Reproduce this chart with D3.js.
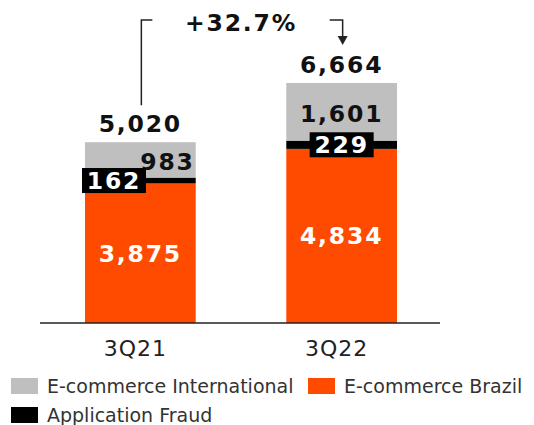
<!DOCTYPE html>
<html>
<head>
<meta charset="utf-8">
<script src="https://cdn.jsdelivr.net/npm/d3@7"></script>
<style>
  body { margin: 0; background: #fff; }
  svg { display: block; font-family: Verdana, "DejaVu Sans", sans-serif; }
</style>
</head>
<body>
<svg id="chart" width="534" height="425"></svg>
<script>
const categories = ["3Q21", "3Q22"]
const brazil = [3875, 4834]
const fraud = [162, 229]
const international = [983, 1601]
const legendItems = ["E-commerce International", "E-commerce Brazil", "Application Fraud"]

const colors = { brazil: "#ff4b00", fraud: "#000000", international: "#bfbfbf" }

const svg = d3.select("#chart")
const fmt = d3.format(",")

// stacked rows
let rows = categories.map((c, i) => ({
  cat: c,
  brazil: brazil[i],
  fraud: fraud[i],
  international: international[i],
  total: brazil[i] + fraud[i] + international[i]
}))

const keys = ["brazil", "fraud", "international"]
const stacked = d3.stack().keys(keys)(rows)

const x = d3.scaleBand().domain(categories).range([85, 397]).paddingInner(0.45)
const y = d3.scaleLinear().domain([0, d3.max(rows, d => d.total)]).range([323, 83])

// bars
svg.append("g")
  .selectAll("g")
  .data(stacked)
  .join("g")
  .attr("fill", d => colors[d.key])
  .selectAll("rect")
  .data(d => d)
  .join("rect")
  .attr("x", d => x(d.data.cat))
  .attr("y", d => y(d[1]))
  .attr("width", x.bandwidth())
  .attr("height", d => y(d[0]) - y(d[1]))

// base line
svg.append("line")
  .attr("x1", 40).attr("x2", 440)
  .attr("y1", y(0)).attr("y2", y(0))
  .attr("stroke", "#222")
  .attr("stroke-width", 1.5)

// category labels
svg.append("g")
  .selectAll("text")
  .data(categories)
  .join("text")
  .attr("x", d => x(d) + x.bandwidth() / 2 - 5)
  .attr("y", 356)
  .attr("text-anchor", "middle")
  .attr("font-size", 22)
  .attr("letter-spacing", 1)
  .attr("fill", "#222")
  .text(d => d)

const valueText = (g) => g
  .attr("font-size", 23.5)
  .attr("font-weight", "bold")
  .attr("letter-spacing", 1.8)

// totals
svg.append("g")
  .selectAll("text")
  .data(rows)
  .join("text")
  .call(valueText)
  .attr("x", d => x(d.cat) + x.bandwidth() / 2)
  .attr("y", d => y(d.total) - 10)
  .attr("text-anchor", "middle")
  .attr("fill", "#111")
  .text(d => fmt(d.total))

// brazil values
svg.append("g")
  .selectAll("text")
  .data(stacked[0])
  .join("text")
  .call(valueText)
  .attr("x", d => x(d.data.cat) + x.bandwidth() / 2)
  .attr("y", d => (y(d[0]) + y(d[1])) / 2)
  .attr("dy", "0.36em")
  .attr("text-anchor", "middle")
  .attr("fill", "#fff")
  .text(d => fmt(d[1] - d[0]))

// international values, first bar right aligned
svg.append("g")
  .selectAll("text")
  .data(stacked[2])
  .join("text")
  .call(valueText)
  .attr("x", (d, i) => i == 0 ? x(d.data.cat) + x.bandwidth() - 1 : x(d.data.cat) + x.bandwidth() / 2)
  .attr("y", d => (y(d[0]) + y(d[1])) / 2 + 2)
  .attr("dy", "0.36em")
  .attr("text-anchor", (d, i) => i == 0 ? "end" : "middle")
  .attr("fill", "#111")
  .text(d => fmt(d[1] - d[0]))

// fraud values in black boxes
let fraudLabels = svg.append("g")
  .selectAll("g")
  .data(stacked[1])
  .join("g")
  .attr("transform", (d, i) => {
    let cx = i == 0 ? x(d.data.cat) + 29 : x(d.data.cat) + x.bandwidth() / 2
    let cy = (y(d[0]) + y(d[1])) / 2
    return `translate(${cx},${cy})`
  })

fraudLabels.append("rect")
  .attr("x", -32).attr("y", -12.5)
  .attr("width", 64).attr("height", 25)
  .attr("fill", colors.fraud)

fraudLabels.append("text")
  .call(valueText)
  .attr("text-anchor", "middle")
  .attr("dy", "0.36em")
  .attr("fill", "#fff")
  .text(d => fmt(d[1] - d[0]))

// growth bracket
let growth = (rows[1].total / rows[0].total - 1) * 100
let bx0 = x(categories[0]) + x.bandwidth() / 2 + 1
let bx1 = x(categories[1]) + x.bandwidth() / 2 + 1
let bracketY = 20

svg.append("path")
  .attr("d", `M${bx0},${y(rows[0].total) - 37}V${bracketY}H${bx0 + 11}`)
  .attr("fill", "none")
  .attr("stroke", "#222")
  .attr("stroke-width", 1.5)

svg.append("path")
  .attr("d", `M${bx1 - 13},${bracketY}H${bx1}V${bracketY + 18}`)
  .attr("fill", "none")
  .attr("stroke", "#222")
  .attr("stroke-width", 1.5)

svg.append("path")
  .attr("d", `M${bx1 - 5},${bracketY + 16}L${bx1 + 5},${bracketY + 16}L${bx1},${bracketY + 25}Z`)
  .attr("fill", "#222")

svg.append("text")
  .call(valueText)
  .attr("x", (bx0 + bx1) / 2 - 1)
  .attr("y", 31)
  .attr("text-anchor", "middle")
  .attr("fill", "#111")
  .text("+" + growth.toFixed(1) + "%")

// legend
let legendPos = [
  { x: 11, y: 378 },
  { x: 308, y: 378 },
  { x: 11, y: 407 }
]
let legendColors = [colors.international, colors.brazil, colors.fraud]

let legend = svg.append("g")
  .selectAll("g")
  .data(legendItems)
  .join("g")
  .attr("transform", (d, i) => `translate(${legendPos[i].x},${legendPos[i].y})`)

legend.append("rect")
  .attr("width", 27).attr("height", 16)
  .attr("fill", (d, i) => legendColors[i])

legend.append("text")
  .attr("x", 36)
  .attr("y", 15)
  .attr("font-size", 19)
  .attr("fill", "#333")
  .text(d => d)
</script>
</body>
</html>
